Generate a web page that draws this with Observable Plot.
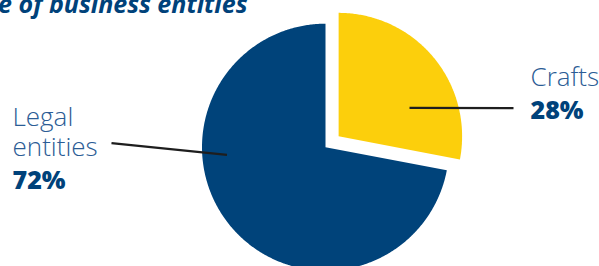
<!DOCTYPE html>
<html><head><meta charset="utf-8">
<script src="https://cdn.jsdelivr.net/npm/d3@7"></script>
<script src="https://cdn.jsdelivr.net/npm/@observablehq/plot@0.6"></script>
<style>
html,body{margin:0;padding:0;background:#fff;overflow:hidden}
</style>
</head><body>
<div id="chart"></div>
<script>
// ---- data ----
const categories = ["Crafts", "Legal entities"];
const shares = [28, 72];
const percentLabels = ["28%", "72%"];
const sliceColors = ["#fccf0c", "#00437a"];
const titleText = "Share of business entities";

// ---- layout ----
const W = 599, H = 266;
const cx = 325, cy = 146.7, R = 123.5;
const explode = [17, 0];

const pie = d3.pie().sort(null).value(d => d)(shares);
const slices = pie.map((p, i) => {
  const mid = (p.startAngle + p.endAngle) / 2;
  const ox = cx + explode[i] * Math.sin(mid);
  const oy = cy - explode[i] * Math.cos(mid);
  const pts = [{x: ox, y: oy}];
  const n = Math.max(8, Math.ceil((p.endAngle - p.startAngle) / 0.01));
  for (let k = 0; k <= n; k++) {
    const a = p.startAngle + (p.endAngle - p.startAngle) * k / n;
    pts.push({x: ox + R * Math.sin(a), y: oy - R * Math.cos(a)});
  }
  pts.push({x: ox, y: oy});
  return {name: categories[i], color: sliceColors[i], pts};
});

const leaders = [
  {x1: 409, y1: 107.3, x2: 513, y2: 107.7},
  {x1: 111, y1: 142.7, x2: 226.5, y2: 154.3}
];
const nameLabels = [
  {x: 530, y: 85, text: "Crafts"},
  {x: 12, y: 155, text: "Legal\nentities"}
];
const pctLabels = [
  {x: 530, y: 118, text: percentLabels[0]},
  {x: 12, y: 188, text: percentLabels[1]}
];

const marks = [];
slices.forEach(s => {
  marks.push(Plot.line(s.pts, {x: "x", y: "y", fill: s.color, stroke: "none", curve: "linear"}));
});
marks.push(Plot.link(leaders, {x1: "x1", y1: "y1", x2: "x2", y2: "y2", stroke: "#1e1e1e", strokeWidth: 2.2}));
marks.push(Plot.text(nameLabels, {x: "x", y: "y", text: "text", textAnchor: "start", lineAnchor: "bottom",
  fontSize: 26, fontWeight: 300, fill: "#2b5c95", lineHeight: 1.154}));
marks.push(Plot.text(pctLabels, {x: "x", y: "y", text: "text", textAnchor: "start", lineAnchor: "bottom",
  fontSize: 25, fontWeight: 800, fill: "#00427a"}));
marks.push(Plot.text([titleText], {x: () => 247, y: () => 12, text: d => d, textAnchor: "end", lineAnchor: "bottom",
  fontSize: 25, fontWeight: 700, fontStyle: "italic", fill: "#00427a"}));

const chart = Plot.plot({
  width: W, height: H,
  margin: 0,
  x: {domain: [0, W], axis: null},
  y: {domain: [0, H], reverse: true, axis: null},
  style: {fontFamily: "'Open Sans', sans-serif", background: "#fff", overflow: "visible"},
  marks
});
document.getElementById("chart").appendChild(chart);
</script>
</body></html>
